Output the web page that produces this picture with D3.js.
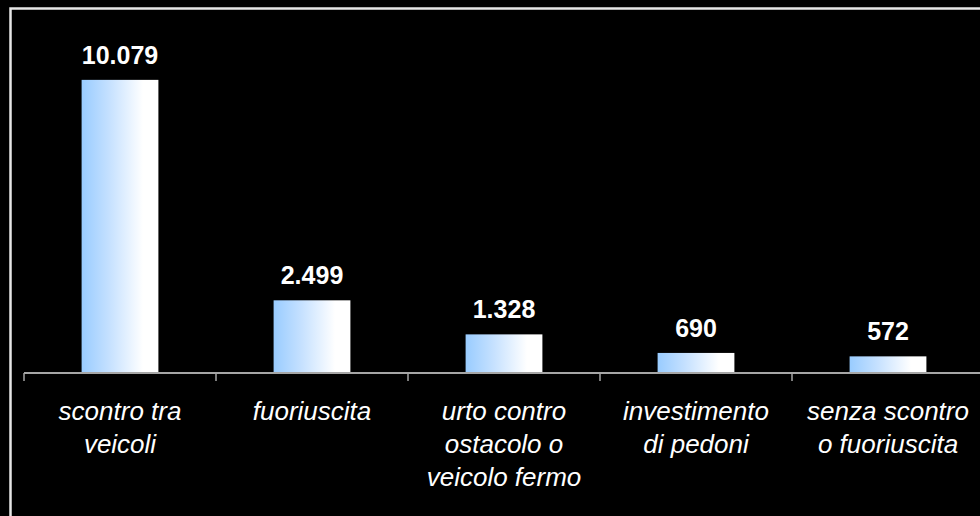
<!DOCTYPE html>
<html>
<head>
<meta charset="utf-8">
<script src="https://cdn.jsdelivr.net/npm/d3@7"></script>
<style>
  html, body { margin: 0; padding: 0; background: #000; overflow: hidden; }
  svg { display: block; }
</style>
</head>
<body>
<div id="chart"></div>
<script>
// dati: incidenti per tipologia
const categories = ['scontro tra veicoli', 'fuoriuscita', 'urto contro ostacolo o veicolo fermo', 'investimento di pedoni', 'senza scontro o fuoriuscita'];
const categoryLines = [
  ['scontro tra', 'veicoli'],
  ['fuoriuscita'],
  ['urto contro', 'ostacolo o', 'veicolo fermo'],
  ['investimento', 'di pedoni'],
  ['senza scontro', 'o fuoriuscita']
];
const values = [10079, 2499, 1328, 690, 572];
const valueLabels = ['10.079', '2.499', '1.328', '690', '572'];

const width = 980;
const height = 516;
const margin = { top: 24, right: -4, bottom: 143, left: 24 };
const innerW = width - margin.left - margin.right;
const innerH = height - margin.top - margin.bottom;

const svg = d3.select('#chart').append('svg')
  .attr('width', width)
  .attr('height', height)
  .style('background-color', '#000');

// gradiente delle barre
const grad = svg.append('defs').append('linearGradient')
  .attr('id', 'barGrad')
  .attr('x1', '0%').attr('x2', '100%')
  .attr('y1', '0%').attr('y2', '0%');
grad.append('stop').attr('offset', '0%').attr('stop-color', '#99ccff');
grad.append('stop').attr('offset', '35%').attr('stop-color', '#c4e0ff');
grad.append('stop').attr('offset', '80%').attr('stop-color', '#ffffff');
grad.append('stop').attr('offset', '100%').attr('stop-color', '#ffffff');

// cornice
svg.append('rect')
  .attr('x', 10.5).attr('y', 8.5)
  .attr('width', 1000).attr('height', 600)
  .attr('fill', 'none')
  .attr('stroke', '#e6e6e6')
  .attr('stroke-width', 2.5);

const mg = svg.append('g')
  .attr('transform', `translate(${margin.left},${margin.top})`);

// scale
const xBand = d3.scaleBand()
  .domain(categories)
  .range([0, innerW])
  .paddingInner(0.6)
  .paddingOuter(0.3);
const xCell = d3.scaleBand()
  .domain(categories)
  .range([0, innerW])
  .padding(0);
const yScale = d3.scaleLinear()
  .domain([0, 12000])
  .range([innerH, 0]);

// barre
mg.selectAll('rect.bar')
  .data(values)
  .join('rect')
  .attr('class', 'bar')
  .attr('x', (d, i) => xBand(categories[i]))
  .attr('y', d => yScale(d))
  .attr('width', xBand.bandwidth())
  .attr('height', d => innerH - yScale(d))
  .attr('fill', 'url(#barGrad)');

// etichette valori
mg.selectAll('text.val')
  .data(values)
  .join('text')
  .attr('class', 'val')
  .attr('x', (d, i) => xCell(categories[i]) + xCell.bandwidth() / 2)
  .attr('y', d => yScale(d) - 16)
  .attr('text-anchor', 'middle')
  .attr('fill', '#fff')
  .attr('font-family', '"Liberation Sans", Arial, sans-serif')
  .attr('font-weight', 'bold')
  .attr('font-size', '25px')
  .text((d, i) => valueLabels[i]);

// asse x
const axis = mg.append('g').attr('transform', `translate(0,${innerH})`);
axis.append('line')
  .attr('x1', 0).attr('x2', innerW)
  .attr('y1', 0).attr('y2', 0)
  .attr('stroke', '#a6a6a6')
  .attr('stroke-width', 2);
axis.selectAll('line.tick')
  .data(categories)
  .join('line')
  .attr('class', 'tick')
  .attr('x1', d => xCell(d)).attr('x2', d => xCell(d))
  .attr('y1', 0).attr('y2', 8)
  .attr('stroke', '#a6a6a6')
  .attr('stroke-width', 1.5);

// etichette categorie
const catText = axis.selectAll('text.cat')
  .data(categories)
  .join('text')
  .attr('class', 'cat')
  .attr('text-anchor', 'middle')
  .attr('fill', '#fff')
  .attr('font-family', '"Liberation Sans", Arial, sans-serif')
  .attr('font-style', 'italic')
  .attr('font-size', '26px')
  .attr('transform', d => `translate(${xCell(d) + xCell.bandwidth() / 2},0)`);
catText.selectAll('tspan')
  .data((d, i) => categoryLines[i])
  .join('tspan')
  .attr('x', 0)
  .attr('y', (d, j) => 47 + j * 33)
  .text(d => d);
</script>
</body>
</html>
